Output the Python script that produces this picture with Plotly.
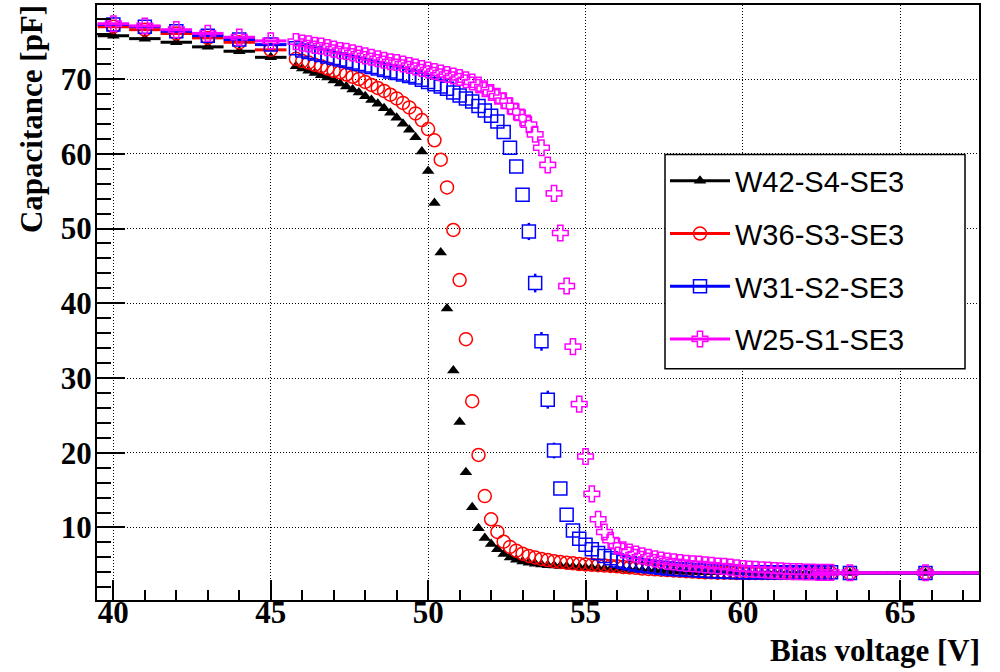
import plotly.graph_objects as go

# Bias voltage grid [V]: 1 V steps, then 0.2 V steps, then a few coarse points
volt_coarse = [40, 41, 42, 43, 44, 45]
volt_fine = [
    45.8, 46.0, 46.2, 46.4, 46.6, 46.8, 47.0, 47.2, 47.4, 47.6,
    47.8, 48.0, 48.2, 48.4, 48.6, 48.8, 49.0, 49.2, 49.4, 49.6,
    49.8, 50.0, 50.2, 50.4, 50.6, 50.8, 51.0, 51.2, 51.4, 51.6,
    51.8, 52.0, 52.2, 52.4, 52.6, 52.8, 53.0, 53.2, 53.4, 53.6,
    53.8, 54.0, 54.2, 54.4, 54.6, 54.8, 55.0, 55.2, 55.4, 55.6,
    55.8, 56.0, 56.2, 56.4, 56.6, 56.8, 57.0, 57.2, 57.4, 57.6,
    57.8, 58.0, 58.2, 58.4, 58.6, 58.8, 59.0, 59.2, 59.4, 59.6,
    59.8, 60.0, 60.2, 60.4, 60.6, 60.8, 61.0, 61.2, 61.4, 61.6,
    61.8, 62.0, 62.2, 62.4, 62.6, 62.8,
]
volt_high = [63.4, 65.8, 68.2]
bias_v = volt_coarse + volt_fine + volt_high

# Half-widths of the voltage steps (drawn as horizontal error bars)
half_step_coarse = 0.5
half_step_fine = 0.0
half_step_high = 1.2

# Capacitance [pF] per sensor
cap_w42 = [
    75.8, 75.4, 74.9, 74.3, 73.7, 72.9,
    71.7, 71.4, 71.1, 70.8, 70.5, 70.2, 69.8, 69.4, 69.0, 68.6,
    68.2, 67.7, 67.2, 66.7, 66.1, 65.5, 64.8, 64.0, 63.2, 62.2,
    60.3, 57.7, 53.4, 46.8, 39.3, 31.0, 24.1, 17.4, 12.7, 9.9,
    8.6, 7.8, 7.1, 6.45, 6.0, 5.7, 5.45, 5.3, 5.15, 5.05,
    4.95, 4.9, 4.85, 4.8, 4.75, 4.7, 4.65, 4.6, 4.55, 4.5,
    4.45, 4.4, 4.35, 4.3, 4.3, 4.25, 4.2, 4.2, 4.15, 4.15,
    4.1, 4.1, 4.05, 4.05, 4.05, 4.0, 4.0, 4.0, 4.0, 4.0,
    4.0, 4.0, 3.95, 3.95, 3.95, 3.95, 3.95, 3.95, 3.95, 3.95,
    3.95, 3.95, 3.95, 3.95, 3.95, 3.95,
    3.9, 3.9, 3.9,
]
cap_w36 = [
    77.0, 76.6, 76.1, 75.5, 74.9, 73.9,
    72.7, 72.4, 72.2, 71.9, 71.7, 71.4, 71.1, 70.9, 70.6, 70.3,
    70.0, 69.6, 69.2, 68.8, 68.4, 67.9, 67.4, 66.8, 66.2, 65.4,
    64.5, 63.3, 61.8, 59.2, 55.5, 49.8, 43.1, 35.2, 26.9, 19.7,
    14.2, 11.1, 9.4, 8.1, 7.4, 6.9, 6.5, 6.2, 6.0, 5.8,
    5.65, 5.5, 5.4, 5.3, 5.2, 5.1, 5.05, 5.0, 4.95, 4.9,
    4.85, 4.8, 4.7, 4.65, 4.6, 4.5, 4.45, 4.4, 4.35, 4.3,
    4.25, 4.2, 4.15, 4.1, 4.05, 4.0, 4.0, 3.95, 3.95, 3.95,
    3.9, 3.9, 3.9, 3.9, 3.9, 3.9, 3.9, 3.9, 3.9, 3.9,
    3.9, 3.9, 3.9, 3.9, 3.9, 3.9,
    3.9, 3.9, 3.9,
]
cap_w31 = [
    77.3, 77.0, 76.4, 75.8, 75.3, 74.6,
    74.1, 73.8, 73.6, 73.4, 73.2, 73.0, 72.8, 72.6, 72.4, 72.2,
    72.0, 71.8, 71.6, 71.4, 71.2, 71.0, 70.8, 70.6, 70.4, 70.2,
    69.9, 69.6, 69.3, 69.0, 68.7, 68.2, 67.8, 67.4, 67.0, 66.4,
    65.8, 65.1, 64.3, 62.9, 60.8, 58.3, 54.5, 49.6, 42.7, 34.9,
    27.1, 20.3, 15.2, 11.7, 9.6, 8.5, 7.7, 7.1, 6.6, 6.2,
    5.9, 5.6, 5.4, 5.2, 5.05, 4.9, 4.8, 4.7, 4.6, 4.5,
    4.45, 4.4, 4.35, 4.3, 4.25, 4.2, 4.15, 4.1, 4.1, 4.05,
    4.05, 4.0, 4.0, 4.0, 4.0, 4.0, 4.0, 4.0, 4.0, 4.0,
    4.0, 4.0, 4.0, 4.0, 4.0, 4.0,
    3.9, 3.9, 3.9,
]
cap_w25 = [
    77.4, 77.1, 76.6, 76.1, 75.6, 75.1,
    75.0, 74.8, 74.7, 74.5, 74.4, 74.2, 74.0, 73.8, 73.7, 73.5,
    73.3, 73.1, 72.9, 72.7, 72.5, 72.3, 72.2, 72.0, 71.8, 71.6,
    71.4, 71.2, 71.0, 70.8, 70.6, 70.4, 70.2, 69.9, 69.6, 69.2,
    68.7, 68.2, 67.7, 67.1, 66.4, 65.6, 64.8, 63.9, 62.6, 60.8,
    58.5, 54.7, 49.4, 42.3, 34.2, 26.5, 19.5, 14.5, 11.1, 9.4,
    8.3, 7.5, 7.0, 6.7, 6.45, 6.2, 6.0, 5.8, 5.65, 5.5,
    5.4, 5.3, 5.2, 5.15, 5.1, 5.0, 4.95, 4.85, 4.8, 4.7,
    4.6, 4.5, 4.45, 4.4, 4.35, 4.3, 4.25, 4.2, 4.15, 4.1,
    4.1, 4.05, 4.05, 4.0, 4.0, 4.0,
    3.95, 3.95, 3.95,
]

# Capacitance uncertainty on the steep part of W31 [pF], keyed by voltage
err_w31 = {53.2: 1.15, 53.4: 1.25, 53.6: 1.25, 53.8: 1.2, 54.0: 1.05}

labels = ["W42-S4-SE3", "W36-S3-SE3", "W31-S2-SE3", "W25-S1-SE3"]

err_x = ([half_step_coarse] * len(volt_coarse)
         + [half_step_fine] * len(volt_fine)
         + [half_step_high] * len(volt_high))

styles = [
    dict(color="#000000", symbol="triangle-up", size=11, lw=0),
    dict(color="#ff0000", symbol="circle-open", size=13, lw=1.5),
    dict(color="#0000ff", symbol="square", size=13, lw=1.5),
    dict(color="#ff00ff", symbol="cross-open", size=13, lw=1.5),
]
series = [cap_w42, cap_w36, cap_w31, cap_w25]

fig = go.Figure()

for name, cap, st in zip(labels, series, styles):
    ex = dict(type="data", array=err_x, symmetric=True, color=st["color"],
              thickness=3, width=0)
    marker = dict(symbol=st["symbol"], size=st["size"], color=st["color"],
                  line=dict(width=st["lw"], color=st["color"]))
    ey = None
    if name == "W31-S2-SE3":
        ey_arr = [err_w31.get(v, 0.0) for v in bias_v]
        ey = dict(type="data", array=ey_arr, symmetric=True,
                  color=st["color"], thickness=2.5, width=0)
        # open squares, white-filled where a vertical error bar is drawn
        marker["color"] = ["white" if e > 0 else "rgba(0,0,0,0)" for e in ey_arr]
    fig.add_trace(go.Scatter(
        x=bias_v, y=cap, mode="markers", name=name, showlegend=False,
        marker=marker, error_x=ex, error_y=ey,
    ))

# legend entries (line + marker sample)
for name, st in zip(labels, styles):
    mcolor = st["color"] if st["symbol"] != "square" else "rgba(0,0,0,0)"
    fig.add_trace(go.Scatter(
        x=[None], y=[None], mode="lines+markers", name=name,
        line=dict(color=st["color"], width=3),
        marker=dict(symbol=st["symbol"], size=st["size"], color=mcolor,
                    line=dict(width=st["lw"], color=st["color"])),
        legendgroup=name,
    ))

tick_font = dict(family="Liberation Serif", size=31, color="black", weight="bold")
title_font = dict(family="Liberation Serif", size=31, color="black", weight="bold")

axis_common = dict(
    showline=True, linecolor="black", linewidth=2, mirror=True,
    showgrid=True, gridcolor="black", gridwidth=1, griddash="1px,2px",
    zeroline=False, ticks="inside", tickwidth=2, tickcolor="black",
    tickfont=tick_font,
)

# legend frame geometry (plot area spans 97..979 px horizontally, 3..600 px vertically)
plot_l, plot_r, plot_t, plot_b = 97, 979, 3, 600
def px_x(p):
    return (p - plot_l) / (plot_r - plot_l)
def px_y(p):
    return (plot_b - p) / (plot_b - plot_t)

fig.update_layout(
    width=1000, height=672,
    margin=dict(l=plot_l, r=1000 - plot_r, t=plot_t, b=672 - plot_b),
    paper_bgcolor="white", plot_bgcolor="white",
    xaxis=dict(range=[39.48, 67.5], tick0=0, dtick=5, ticklen=20,
               ticklabelstandoff=-16,
               minor=dict(ticks="inside", dtick=1, ticklen=10, tickwidth=2,
                          tickcolor="black", showgrid=False),
               **axis_common),
    yaxis=dict(range=[0.3, 79.9], tick0=0, dtick=10, ticklen=28,
               ticklabelstandoff=-3,
               minor=dict(ticks="inside", dtick=2, ticklen=14, tickwidth=2,
                          tickcolor="black", showgrid=False),
               **axis_common),
    legend=dict(
        x=px_x(665), y=px_y(154), xanchor="left", yanchor="top",
        bgcolor="rgba(0,0,0,0)", borderwidth=0,
        font=dict(family="Liberation Sans", size=29, color="black"),
        tracegroupgap=12, itemwidth=60,
    ),
    shapes=[
        dict(type="rect", xref="paper", yref="paper",
             x0=px_x(665), x1=px_x(965), y0=px_y(368), y1=px_y(153),
             fillcolor="white", line=dict(color="black", width=1.5),
             layer="above"),
    ],
    annotations=[
        dict(text="Bias voltage [V]", xref="paper", yref="paper",
             x=1, y=0, xanchor="right", yanchor="middle", yshift=-50,
             xshift=3, showarrow=False, font=title_font),
        dict(text="Capacitance [pF]", xref="paper", yref="paper",
             x=-0.0748, y=1, xanchor="center", yanchor="top", yshift=2,
             textangle=-90, showarrow=False, font=title_font),
    ],
)

fig.write_html("out.html")
